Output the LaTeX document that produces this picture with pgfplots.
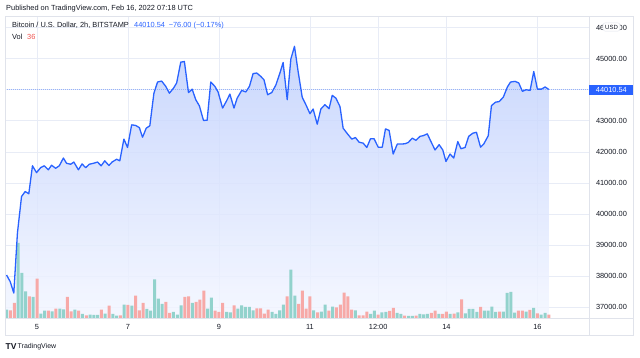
\documentclass[border=0pt]{standalone}
\usepackage{pgfplots}
\pgfplotsset{compat=1.18}
\usepackage{pgfplotstable}
\usepackage{fontspec}
\setmainfont{Liberation Sans}
\definecolor{tvblue}{RGB}{41,98,255}
\definecolor{txt}{RGB}{19,23,34}
\definecolor{gridc}{RGB}{232,236,246}
\definecolor{borderc}{RGB}{224,227,235}
\definecolor{upc}{RGB}{146,210,204}
\definecolor{dnc}{RGB}{247,169,167}
\definecolor{redtxt}{RGB}{239,83,80}
\definecolor{filltop}{RGB}{192,208,253}
\definecolor{fillbot}{RGB}{243,246,255}
\definecolor{dotc}{RGB}{150,178,250}

\pgfplotstableread{
x y
4.33 38030
4.41 37820
4.49 37450
4.57 39390
4.66 40560
4.74 40720
4.82 40650
4.90 41550
4.99 41330
5.08 41490
5.16 41550
5.25 41420
5.32 41570
5.41 41470
5.49 41550
5.58 41800
5.65 41630
5.74 41600
5.81 41670
5.91 41420
5.99 41610
6.07 41490
6.15 41600
6.24 41630
6.33 41670
6.41 41550
6.49 41710
6.58 41560
6.65 41670
6.75 41760
6.82 41710
6.91 42410
6.99 42140
7.08 42870
7.17 42850
7.25 42780
7.32 42470
7.40 42760
7.48 42840
7.57 43890
7.65 44250
7.74 44280
7.83 44110
7.91 43890
8.00 44050
8.07 44220
8.16 44890
8.24 44910
8.33 43910
8.41 44020
8.49 43680
8.57 43480
8.66 43010
8.74 43020
8.82 44250
8.91 44110
8.98 43930
9.08 43410
9.17 43650
9.24 43860
9.33 43410
9.40 43730
9.50 43980
9.59 43930
9.67 44110
9.75 44520
9.83 44540
9.92 44430
9.99 44320
10.07 43840
10.16 43910
10.25 44150
10.34 44540
10.41 44880
10.50 43680
10.58 44990
10.66 45400
10.74 44590
10.83 43760
10.91 43520
11.00 43230
11.07 43380
11.16 42890
11.24 43380
11.33 43520
11.42 43390
11.49 43820
11.57 43730
11.66 43460
11.73 42760
11.83 42570
11.92 42410
12.00 42460
12.08 42310
12.17 42280
12.25 42140
12.33 42420
12.41 42420
12.50 42150
12.59 42150
12.66 42740
12.74 42690
12.83 41930
12.92 42250
13.00 42250
13.09 42260
13.16 42300
13.25 42440
13.33 42370
13.42 42500
13.49 42520
13.58 42580
13.66 42330
13.75 42060
13.84 42230
13.92 42060
13.99 41690
14.08 41930
14.16 41800
14.25 42330
14.32 42100
14.41 42140
14.49 42500
14.58 42600
14.66 42630
14.75 42150
14.82 42250
14.92 42520
14.99 43490
15.08 43600
15.16 43620
15.25 43760
15.34 44090
15.41 44250
15.51 44270
15.59 44220
15.67 43950
15.75 44000
15.84 43980
15.92 44590
16.00 44020
16.09 44020
16.17 44090
16.25 44010
}\price

\pgfplotstableread{
x v
4.333 25
4.583 225
4.667 135
4.750 80
4.917 63
5.083 13
5.167 22
5.333 20
5.500 28
5.583 26
5.833 25
6.000 12
6.167 10
6.250 9
6.333 9
6.500 13
6.667 12
6.750 7
6.917 40
7.083 37
7.417 27
7.500 22
7.583 116
7.667 58
7.750 42
8.000 18
8.083 10
8.167 38
8.417 45
8.750 28
8.833 61
9.167 18
9.250 17
9.417 28
9.500 38
9.583 33
9.667 33
9.750 23
10.167 18
10.250 12
10.333 23
10.417 40
10.583 145
10.667 67
11.083 23
11.250 19
11.333 40
11.500 34
12.000 23
12.333 12
12.417 22
12.583 17
12.667 18
12.917 15
13.000 12
13.167 6
13.250 6
13.417 12
13.500 11
13.583 12
13.833 12
14.083 12
14.250 17
14.417 14
14.500 27
14.583 27
14.667 18
14.833 22
14.917 22
15.000 34
15.083 18
15.250 19
15.333 75
15.417 78
15.500 16
15.750 19
15.917 30
16.083 10
16.167 15
}\volup

\pgfplotstableread{
x v
4.417 23
4.500 45
4.833 65
5.000 118
5.250 22
5.417 28
5.667 63
5.750 20
5.917 22
6.083 8
6.417 25
6.583 37
6.833 8
7.000 39
7.167 67
7.250 23
7.333 45
7.833 48
7.917 15
8.250 63
8.333 65
8.500 48
8.583 55
8.667 82
8.917 22
9.000 18
9.083 45
9.333 38
9.833 29
9.917 29
10.000 13
10.083 25
10.500 65
10.750 42
10.833 82
10.917 28
11.000 65
11.167 17
11.417 22
11.583 32
11.667 40
11.750 76
11.833 65
11.917 25
12.083 8
12.167 8
12.250 19
12.500 10
12.750 21
12.833 30
13.083 7
13.333 7
13.667 15
13.750 22
13.917 12
14.000 19
14.167 13
14.333 56
14.750 33
15.167 19
15.583 22
15.667 22
15.833 24
16.000 14
16.250 10
}\voldn

\newcommand{\fs}{\fontsize{7.4}{9}\selectfont}

\begin{document}
\begin{tikzpicture}
\useasboundingbox (0,0) rectangle (640pt,358pt);
\pgfplotsset{base/.style={at={(5.3pt,40pt)}, anchor=south west, scale only axis,
  width=583.5pt, height=301.3pt, xmin=4.303, xmax=17.13}}
% axis A: grid, ticks, area
\begin{axis}[base, ymin=36645, ymax=46355,
  axis line style={draw=none},
  scaled y ticks=false, scaled x ticks=false,
  xtick={5,7,9,11,12.5,14,16}, xticklabels={5,7,9,11,12:00,14,16},
  ytick={37000,38000,39000,40000,41000,42000,43000,44000,45000,46000},
  yticklabels={37000.00,38000.00,39000.00,40000.00,41000.00,42000.00,43000.00,,45000.00,46000.00},
  yticklabel pos=right,
  major tick length=0pt,
  tick label style={font=\fs, text=txt},
  xticklabel style={anchor=center, yshift=-8.5pt, inner sep=0pt},
  yticklabel style={anchor=west, xshift=7pt, inner sep=0pt},
  grid=major, major grid style={draw=gridc, line width=0.6pt}]
\addplot[draw=none, top color=filltop, bottom color=fillbot, fill opacity=0.85] table {\price}
  -- (axis cs:16.25,36645) -- (axis cs:4.33,36645) -- cycle;
\end{axis}
% axis B: volume
\begin{axis}[base, ymin=0, ymax=903, hide axis]
\addplot[ybar, bar width=3pt, bar shift=0pt, fill=upc, draw=none] table {\volup};
\addplot[ybar, bar width=3pt, bar shift=0pt, fill=dnc, draw=none] table {\voldn};
\end{axis}
% axis C: price line
\begin{axis}[base, ymin=36645, ymax=46355, hide axis, clip=false]
\addplot[dotc, dash pattern=on 1pt off 1pt, line width=0.5pt] coordinates {(4.303,44010.54) (17.13,44010.54)};
\addplot[tvblue, line width=1.3pt, line join=round] table {\price};
\end{axis}
% frame
\draw[borderc, line width=0.6pt] (5.3pt,23pt) rectangle (633.3pt,341.3pt);
\draw[borderc, line width=0.6pt] (588.8pt,23pt) -- (588.8pt,341.3pt);
\draw[borderc, line width=0.6pt] (5.3pt,40pt) -- (633.3pt,40pt);
% last price label
\node[fill=tvblue, text=white, anchor=west, inner sep=0pt, minimum width=44pt,
  minimum height=10pt, font=\fs] at (589.2pt,268pt) {44010.54};
% USD box
\node[draw=borderc, fill=white, rounded corners=2pt, inner xsep=2pt, inner ysep=2pt,
  font=\fontsize{6}{6}\selectfont, text=txt] at (611.5pt,331pt) {USD};
% texts
\node[anchor=west, inner sep=0pt, font=\fs, text=txt] at (6pt,349.7pt)
  {Published on TradingView.com, Feb 16, 2022 07:18 UTC};
\node[anchor=west, inner sep=0pt, font=\fs, text=txt] at (12pt,332.3pt)
  {Bitcoin / U.S. Dollar, 2h, BITSTAMP};
\node[anchor=west, inner sep=0pt, font=\fs, text=tvblue] at (134pt,332.3pt)
  {44010.54\enspace −76.00 (−0.17\%)};
\node[anchor=west, inner sep=0pt, font=\fs, text=txt] at (12pt,320.7pt) {Vol};
\node[anchor=west, inner sep=0pt, font=\fs, text=redtxt] at (27pt,320.7pt) {36};
% logo
\node[anchor=west, inner sep=0pt, font=\fontsize{8.5}{9}\selectfont\bfseries, text=txt] at (5.5pt,11pt) {TV};
\node[anchor=west, inner sep=0pt, font=\fontsize{7}{9}\selectfont, text=txt] at (17.5pt,11pt) {TradingView};
\end{tikzpicture}
\end{document}
